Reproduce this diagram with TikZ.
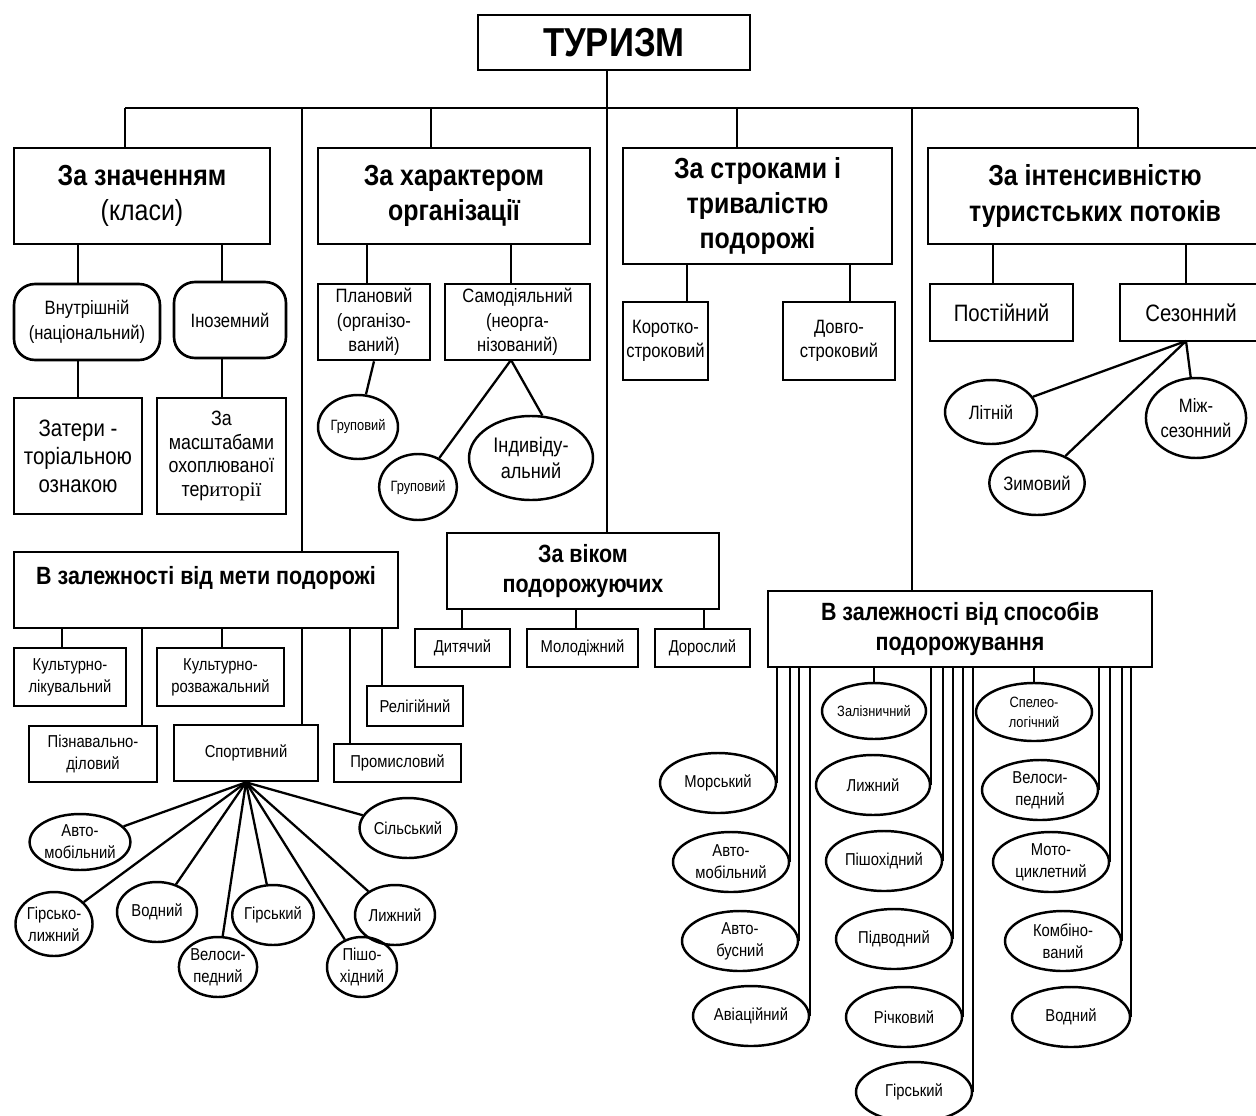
\documentclass[tikz,border=0pt]{standalone}
\usepackage{fontspec}
\setmainfont[FakeStretch=0.86]{Liberation Sans}
\newfontfamily\timesfont{Liberation Serif}
\usetikzlibrary{shapes.geometric}

\tikzset{
    every node/.style={align=center},
    line/.style={line width=1.3pt},
    box/.style={draw, line width=1.5pt, rectangle, inner sep=1pt},
    rbox/.style={box, rounded corners=12pt},
    oval/.style={draw, line width=1.4pt, ellipse, inner sep=0pt},
    sz/.style 2 args={minimum width=#1*0.02cm, minimum height=#2*0.02cm},
    ftitle/.style={font=\bfseries\fontsize{23}{27}\selectfont},
    fhead/.style={font=\bfseries\fontsize{16.5}{20}\selectfont},
    fsub/.style={font=\bfseries\fontsize{14.2}{17}\selectfont},
    fbig/.style={font=\fontsize{13.5}{16}\selectfont},
    fmid/.style={font=\fontsize{11}{14}\selectfont},
    fsmall/.style={font=\fontsize{9.8}{12.5}\selectfont},
    ftiny/.style={font=\fontsize{8.5}{11.5}\selectfont}
}

\begin{document}
\begin{tikzpicture}[x=0.02cm, y=-0.02cm]
    \useasboundingbox (0,0) rectangle (1256,1115);

    % root and main groups
    \node[box, ftitle, sz={272}{55}] (turizm) at (614,42.5) {ТУРИЗМ};
    \node[box, fhead, sz={256}{96}] (znach) at (142,196) {За значенням\\\mdseries(класи)};
    \node[box, fhead, sz={272}{96}] (harakt) at (454,196) {За характером\\організації};
    \node[box, fhead, sz={269}{116}] (strok) at (757.5,206) {За строками і\\тривалістю\\подорожі};
    \node[box, fhead, sz={334}{96}] (intens) at (1095,196) {За інтенсивністю\\туристських потоків};
    \node[box, fsub, sz={384}{76}] (meta) at (206,590) {В залежності від мети подорожі\\~};
    \node[box, fsub, sz={272}{76}] (vik) at (583,571) {За віком\\подорожуючих};
    \node[box, fsub, sz={384}{76}] (spos) at (960,629) {В залежності від способів\\подорожування};

    \coordinate (busL) at (125,108);
    \coordinate (busR) at (1138,108);
    \coordinate (top) at (607,108);
    \draw[line] (busL) -- (busR);
    \draw[line] (top |- turizm.south) -- (top |- vik.north);
    \foreach \x/\n in {125/znach, 302/meta, 431/harakt, 737/strok, 912/spos, 1138/intens}
        \draw[line] (\x,0 |- busL) -- (\x,0 |- \n.north);

    % za znachenniam
    \node[rbox, fmid, sz={146}{76}] (vnutr) at (87,322) {Внутрішній\\(національний)};
    \node[rbox, fmid, sz={112}{76}] (inozem) at (230,320) {Іноземний};
    \node[box, fbig, sz={128}{116}] (zateryt) at (78,456) {Затери -\\торіальною\\ознакою};
    \node[box, font=\fontsize{11.8}{13.6}\selectfont, sz={129}{116}] (masht) at (221.5,456) {За\\масштабами\\охоплюваної\\тер{\timesfont иторії}};

    % za harakterom
    \node[box, fmid, sz={112}{76}] (planov) at (374,322) {Плановий\\(організо-\\ваний)};
    \node[box, fmid, sz={145}{76}] (samod) at (517.5,322) {Самодіяльний\\(неорга-\\нізований)};
    \node[oval, ftiny, sz={80}{64}] (grup1) at (358,427) {Груповий};
    \node[oval, ftiny, sz={74}{66}] (grup2) at (418,487) {Груповий};
    \node[oval, font=\fontsize{12}{15}\selectfont, sz={124}{84}] (indyv) at (531,458) {Індивіду-\\альний};
    \coordinate (samhub) at (511,360);
    \draw[line] (planov.south) -- (grup1);
    \draw[line] (samhub) -- (grup2);
    \draw[line] (samhub) -- (indyv.75);

    % za strokamy
    \node[box, fmid, sz={85}{78}] (korot) at (665.5,341) {Коротко-\\строковий};
    \node[box, fmid, sz={112}{78}] (dovho) at (839,341) {Довго-\\строковий};

    % za intensyvnistiu
    \node[box, fbig, sz={143}{57}] (postij) at (1001.5,312.5) {Постійний};
    \node[box, fbig, sz={142}{57}] (sezon) at (1191,312.5) {Сезонний};
    \node[oval, fmid, sz={92}{64}] (litn) at (991,412) {Літній};
    \node[oval, fmid, sz={92}{64}] (zymov) at (1037,483) {Зимовий};
    \node[oval, fmid, sz={88}{80}] (mizh) at (1196,418) {Між-\\сезонний};
    \coordinate (sezhub) at (1186,341);
    \foreach \n in {litn, zymov, mizh}
        \draw[line] (sezhub) -- (\n);

    % za metoiu
    \node[box, fsmall, sz={112}{58}] (kultlik) at (70,677) {Культурно-\\лікувальний};
    \node[box, fsmall, sz={127}{58}] (kultroz) at (220.5,677) {Культурно-\\розважальний};
    \node[box, fsmall, sz={128}{56}] (piznav) at (93,754) {Пізнавально-\\діловий};
    \node[box, fsmall, sz={144}{56}] (sport) at (246,753) {Спортивний};
    \node[box, fsmall, sz={96}{40}] (relig) at (415,706) {Релігійний};
    \node[box, fsmall, sz={127}{38}] (promysl) at (397.5,763) {Промисловий};

    \node[oval, fsmall, sz={80}{56}] (savto) at (80,842) {Авто-\\мобільний};
    \node[oval, fsmall, sz={72}{64}] (sgirlyzh) at (54,924) {Гірсько-\\лижний};
    \node[oval, fsmall, sz={80}{60}] (svod) at (157,912) {Водний};
    \node[oval, fsmall, sz={74}{60}] (svelo) at (218,967) {Велоси-\\педний};
    \node[oval, fsmall, sz={80}{60}] (sgir) at (273,915) {Гірський};
    \node[oval, fsmall, sz={70}{60}] (spisho) at (362,967) {Пішо-\\хідний};
    \node[oval, fsmall, sz={80}{60}] (slyzh) at (395,915) {Лижний};
    \node[oval, fsmall, sz={80}{60}] (silsk) at (408,828) {Сільський};
    \foreach \n in {savto, sgirlyzh, svod, svelo, sgir, spisho, slyzh, silsk}
        \draw[line] (sport.south) -- (\n);

    % za vikom
    \node[box, fsmall, sz={95}{38}] (dyt) at (462.5,648) {Дитячий};
    \node[box, fsmall, sz={111}{38}] (molod) at (582.5,648) {Молодіжний};
    \node[box, fsmall, sz={95}{38}] (dorosl) at (702.5,648) {Дорослий};

    \foreach \x/\a/\b in {78/znach/vnutr, 78/vnutr/zateryt, 222/znach/inozem, 222/inozem/masht,
            367/harakt/planov, 511/harakt/samod, 687/strok/korot, 850/strok/dovho,
            993/intens/postij, 1186/intens/sezon, 62/meta/kultlik, 222/meta/kultroz,
            142/meta/piznav, 302/meta/sport, 382/meta/relig, 350/meta/promysl,
            462/vik/dyt, 576/vik/molod, 704/vik/dorosl}
        \draw[line] (\x,0 |- \a.south) -- (\x,0 |- \b.north);

    % za sposobamy
    \node[oval, fsmall, sz={116}{60}] (morsk) at (718,783) {Морський};
    \node[oval, fsmall, sz={116}{60}] (avto) at (731,862) {Авто-\\мобільний};
    \node[oval, fsmall, sz={116}{60}] (avtob) at (740,941) {Авто-\\бусний};
    \node[oval, fsmall, sz={116}{60}] (avia) at (751,1016) {Авіаційний};
    \node[oval, ftiny, sz={104}{56}] (zaliz) at (874,711) {Залізничний};
    \node[oval, fsmall, sz={114}{60}] (lyzh) at (873,785) {Лижний};
    \node[oval, fsmall, sz={116}{60}] (pisho) at (884,861) {Пішохідний};
    \node[oval, fsmall, sz={116}{60}] (pidv) at (894,939) {Підводний};
    \node[oval, fsmall, sz={116}{60}] (richk) at (904,1017) {Річковий};
    \node[oval, fsmall, sz={116}{60}] (girsk) at (914,1092) {Гірський};
    \node[oval, ftiny, sz={116}{58}] (speleo) at (1034,712) {Спелео-\\логічний};
    \node[oval, fsmall, sz={116}{60}] (velo) at (1040,790) {Велоси-\\педний};
    \node[oval, fsmall, sz={116}{60}] (moto) at (1051,862) {Мото-\\циклетний};
    \node[oval, fsmall, sz={116}{60}] (kombi) at (1063,941) {Комбіно-\\ваний};
    \node[oval, fsmall, sz={118}{60}] (vodn) at (1071,1017) {Водний};

    \draw[line] (zaliz.north |- spos.south) -- (zaliz.north);
    \draw[line] (speleo.north |- spos.south) -- (speleo.north);
    \foreach \n in {morsk, avto, avtob, avia, lyzh, pisho, pidv, richk, girsk, velo, moto, kombi, vodn}
        \draw[line] (\n.east |- spos.south) -- (\n.east);
\end{tikzpicture}
\end{document}
